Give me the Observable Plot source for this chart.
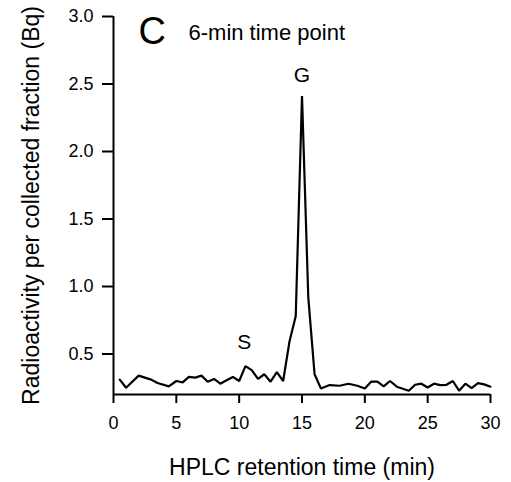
<!DOCTYPE html>
<html>
<head>
<meta charset="utf-8">
<script src="https://cdn.jsdelivr.net/npm/d3@7"></script>
<script src="https://cdn.jsdelivr.net/npm/@observablehq/plot@0.6"></script>
<style>
  html, body { margin: 0; padding: 0; background: #fff; }
  svg { display: block; }
</style>
</head>
<body>
<div id="chart"></div>
<script>
// HPLC retention time (min)
const times = [0.5, 1.0, 2.0, 3.0, 3.5, 4.4, 5.0, 5.5, 6.0, 6.5, 7.0, 7.5, 8.0, 8.5, 9.0, 9.5, 10.0,
  10.5, 11.0, 11.5, 12.0, 12.5, 13.0, 13.5, 14.0, 14.5, 15.0, 15.5, 16.0, 16.5, 17.2, 18.0, 18.7,
  19.4, 20.0, 20.5, 21.0, 21.5, 22.0, 22.6, 23.5, 24.0, 24.5, 25.0, 25.5, 26.0, 26.5, 27.0, 27.5,
  28.0, 28.5, 29.0, 29.5, 30.0];
// Radioactivity per collected fraction (Bq)
const activity = [0.31, 0.25, 0.34, 0.31, 0.285, 0.26, 0.30, 0.29, 0.33, 0.325, 0.34, 0.295, 0.315,
  0.28, 0.305, 0.33, 0.30, 0.41, 0.38, 0.315, 0.35, 0.295, 0.365, 0.30, 0.59, 0.78, 2.41, 0.92,
  0.35, 0.245, 0.27, 0.265, 0.28, 0.265, 0.245, 0.295, 0.295, 0.26, 0.30, 0.255, 0.228, 0.272,
  0.28, 0.252, 0.28, 0.27, 0.272, 0.30, 0.228, 0.28, 0.247, 0.284, 0.275, 0.258];

const peakLabels = ["S", "G"];
const peakX = [10.4, 15.0];
const peakY = [0.59, 2.565];

const xTicks = [0, 5, 10, 15, 20, 25, 30];
const yTicks = [0.5, 1.0, 1.5, 2.0, 2.5, 3.0];

const panelLetter = "C";
const panelTitle = "6-min time point";
const xLabel = "HPLC retention time (min)";
const yLabel = "Radioactivity per collected fraction (Bq)";

const data = times.map((t, i) => ({t, v: activity[i]}));
const peaks = peakLabels.map((s, i) => ({s, x: peakX[i], y: peakY[i]}));

const font = "'Liberation Sans', Arial, sans-serif";

const chart = Plot.plot({
  width: 511,
  height: 482,
  marginLeft: 113,
  marginRight: 21,
  marginTop: 16,
  marginBottom: 88,
  style: {fontFamily: font, background: "#fff", color: "#000"},
  x: {domain: [0, 30], axis: null},
  y: {domain: [0.2, 3.0], axis: null},
  marks: [
    Plot.axisX(xTicks, {tickSize: 9, tickPadding: 13, fontSize: 18, strokeWidth: 2, label: null,
      tickFormat: d => String(d), color: "#000"}),
    Plot.axisY(yTicks, {tickSize: 11, tickPadding: 9, fontSize: 18, strokeWidth: 2, label: null,
      tickFormat: d => d.toFixed(1), color: "#000"}),
    Plot.ruleX([0], {stroke: "#000", strokeWidth: 2}),
    Plot.ruleY([0.2], {stroke: "#000", strokeWidth: 2}),
    Plot.line(data, {x: "t", y: "v", stroke: "#000", strokeWidth: 2.2, strokeLinejoin: "miter"}),
    Plot.text(peaks, {x: "x", y: "y", text: "s", fontSize: 21, fill: "#000"}),
    Plot.text([panelLetter], {frameAnchor: "top-left", text: d => d, fontSize: 38, dx: 25, dy: 1,
      lineAnchor: "top", textAnchor: "start", fill: "#000"}),
    Plot.text([panelTitle], {frameAnchor: "top-left", text: d => d, fontSize: 22, dx: 75, dy: 8,
      lineAnchor: "top", textAnchor: "start", fill: "#000"}),
    Plot.text([xLabel], {frameAnchor: "bottom", text: d => d, fontSize: 23, dy: 80,
      lineAnchor: "bottom", fill: "#000"}),
    Plot.text([yLabel], {frameAnchor: "left", text: d => d, fontSize: 23, dx: -75, rotate: -90,
      lineAnchor: "bottom", textAnchor: "middle", fill: "#000"})
  ]
});
document.getElementById("chart").appendChild(chart);
</script>
</body>
</html>
